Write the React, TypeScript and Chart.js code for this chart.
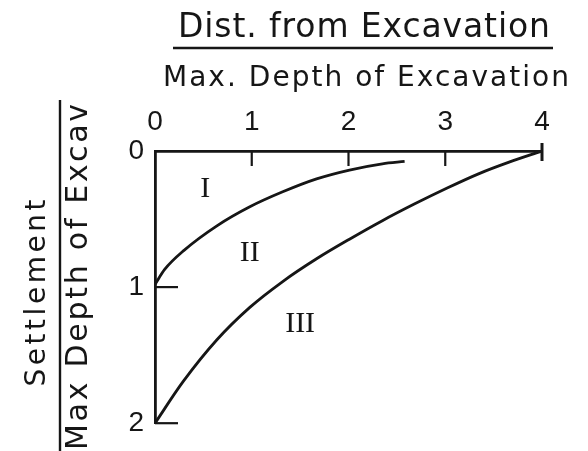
import { useEffect, useRef } from "react";
import { Chart, registerables } from "chart.js";

Chart.register(...registerables);

// Axis ticks
const xTickValues = [0, 1, 2, 3, 4];
const yTickValues = [0, 1, 2];

// Boundary between zone I and zone II
const boundaryOneX = [0, 0.1, 0.3, 0.64, 0.98, 1.32, 1.67, 2.01, 2.35, 2.58];
const boundaryOneY = [0.98, 0.87, 0.73, 0.55, 0.41, 0.3, 0.205, 0.14, 0.094, 0.077];

// Boundary between zone II and zone III
const boundaryTwoX = [0, 0.29, 0.64, 0.98, 1.32, 1.67, 2.01, 2.35, 2.68, 3.02, 3.35, 3.66, 4];
const boundaryTwoY = [2, 1.695, 1.387, 1.149, 0.959, 0.792, 0.648, 0.512, 0.39, 0.272, 0.166, 0.082, 0];

// Zone names and where they sit in data coordinates
const zoneNames = ["I", "II", "III"];
const zoneX = [0.52, 0.98, 1.5];
const zoneY = [0.28, 0.75, 1.27];

// Axis titles (written as fractions)
const xTitleTop = "Dist. from Excavation";
const xTitleBottom = "Max. Depth of Excavation";
const yTitleTop = "Settlement";
const yTitleBottom = "Max Depth of Excav";

const INK = "#161616";
const SANS = "'DejaVu Sans', Verdana, sans-serif";
const DIGITS = "'Liberation Sans', Arial, sans-serif";
const SERIF = "'Liberation Serif', 'Times New Roman', serif";

// Draws text stretched by letter spacing so it fills a given width.
function drawSpread(
  ctx: CanvasRenderingContext2D,
  text: string,
  cx: number,
  baseline: number,
  size: number,
  width: number
) {
  ctx.font = `${size}px ${SANS}`;
  (ctx as any).letterSpacing = "0px";
  const w0 = ctx.measureText(text).width;
  const gap = (width - w0) / Math.max(1, text.length - 1);
  (ctx as any).letterSpacing = `${gap}px`;
  ctx.textAlign = "left";
  ctx.textBaseline = "alphabetic";
  ctx.fillText(text, cx - width / 2, baseline);
  (ctx as any).letterSpacing = "0px";
}

const decorations = {
  id: "decorations",
  beforeDraw(chart: any) {
    const { ctx, width, height } = chart;
    ctx.save();
    ctx.fillStyle = "#ffffff";
    ctx.fillRect(0, 0, width, height);
    ctx.restore();
  },
  afterDraw(chart: any) {
    const { ctx } = chart;
    const xs = chart.scales.x;
    const ys = chart.scales.y;
    const top = chart.chartArea.top;
    const left = chart.chartArea.left;
    ctx.save();
    ctx.strokeStyle = INK;
    ctx.fillStyle = INK;
    ctx.lineCap = "butt";

    // inward tick marks
    xTickValues.forEach((v) => {
      if (v === 0) return;
      const px = xs.getPixelForValue(v);
      ctx.beginPath();
      if (v === xTickValues[xTickValues.length - 1]) {
        ctx.lineWidth = 3;
        ctx.moveTo(px, top - 8);
        ctx.lineTo(px, top + 10);
      } else {
        ctx.lineWidth = 2.2;
        ctx.moveTo(px, top);
        ctx.lineTo(px, top + 15);
      }
      ctx.stroke();
    });
    ctx.lineWidth = 2.2;
    yTickValues.forEach((v) => {
      if (v === 0) return;
      const py = ys.getPixelForValue(v);
      ctx.beginPath();
      ctx.moveTo(left, py);
      ctx.lineTo(left + 23, py);
      ctx.stroke();
    });

    // zone names
    ctx.font = `30px ${SERIF}`;
    ctx.textAlign = "center";
    ctx.textBaseline = "middle";
    zoneNames.forEach((name, i) => {
      ctx.fillText(name, xs.getPixelForValue(zoneX[i]), ys.getPixelForValue(zoneY[i]));
    });

    // x-axis title as a fraction
    drawSpread(ctx, xTitleTop, 364, 37, 33, 372);
    ctx.lineWidth = 2.6;
    ctx.beginPath();
    ctx.moveTo(173, 48);
    ctx.lineTo(553, 48);
    ctx.stroke();
    drawSpread(ctx, xTitleBottom, 366, 86, 28, 406);

    // y-axis title as a fraction, rotated
    ctx.save();
    ctx.rotate(-Math.PI / 2);
    drawSpread(ctx, yTitleTop, -293, 45, 28, 187);
    drawSpread(ctx, yTitleBottom, -277, 87, 30, 346);
    ctx.restore();
    ctx.lineWidth = 2.4;
    ctx.beginPath();
    ctx.moveTo(60, 100);
    ctx.lineTo(60, 451);
    ctx.stroke();

    ctx.restore();
  },
};

export default function App() {
  const canvasRef = useRef<HTMLCanvasElement | null>(null);

  useEffect(() => {
    const canvas = canvasRef.current;
    if (!canvas) return;
    const lineStyle = {
      borderColor: INK,
      borderWidth: 2.8,
      pointRadius: 0,
      fill: false,
      cubicInterpolationMode: "monotone" as const,
    };
    const chart = new Chart(canvas, {
      type: "line",
      data: {
        datasets: [
          {
            label: "I / II",
            data: boundaryOneX.map((x, i) => ({ x, y: boundaryOneY[i] })),
            ...lineStyle,
          },
          {
            label: "II / III",
            data: boundaryTwoX.map((x, i) => ({ x, y: boundaryTwoY[i] })),
            ...lineStyle,
          },
        ],
      },
      options: {
        animation: false,
        responsive: true,
        maintainAspectRatio: false,
        layout: { padding: { top: 0, left: 0, right: 46, bottom: 22 } },
        plugins: {
          legend: { display: false },
          tooltip: { enabled: false },
          title: { display: false },
        },
        scales: {
          x: {
            type: "linear",
            position: "top",
            min: 0,
            max: 4,
            afterBuildTicks: (scale: any) => {
              scale.ticks = xTickValues.map((value) => ({ value }));
            },
            afterFit: (scale: any) => {
              scale.height = 151;
            },
            ticks: {
              color: INK,
              font: { family: DIGITS, size: 28 },
              padding: 12,
              maxRotation: 0,
              autoSkip: false,
            },
            grid: { display: false, drawTicks: false },
            border: { display: true, color: INK, width: 2.8 },
          },
          y: {
            type: "linear",
            reverse: true,
            min: 0,
            max: 2,
            afterBuildTicks: (scale: any) => {
              scale.ticks = yTickValues.map((value) => ({ value }));
            },
            afterFit: (scale: any) => {
              scale.width = 155;
            },
            ticks: {
              color: INK,
              font: { family: DIGITS, size: 28 },
              padding: 11,
              crossAlign: "center",
              autoSkip: false,
            },
            grid: { display: false, drawTicks: false },
            border: { display: true, color: INK, width: 2.8 },
          },
        },
      },
      plugins: [decorations],
    });
    return () => chart.destroy();
  }, []);

  return (
    <div style={{ position: "absolute", left: 0, top: 0, width: 588, height: 451, background: "#fff" }}>
      <canvas ref={canvasRef} />
    </div>
  );
}
